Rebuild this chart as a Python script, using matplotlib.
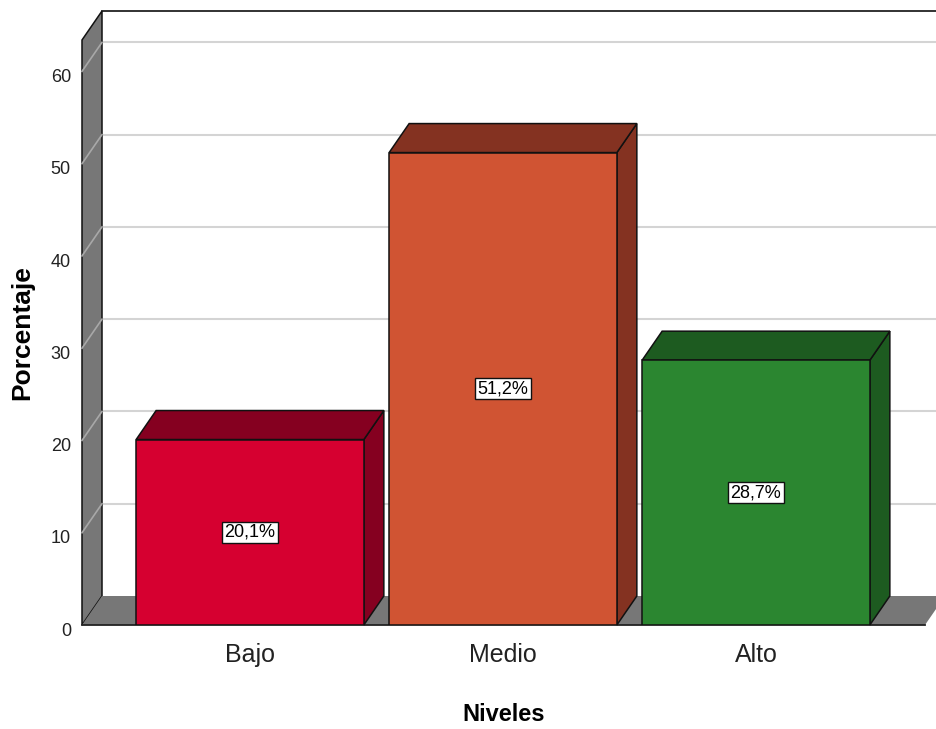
import matplotlib
matplotlib.use("Agg")
import matplotlib.pyplot as plt
from matplotlib.patches import Polygon
from matplotlib.transforms import IdentityTransform, ScaledTranslation
import numpy as np

# ---- data ----
categories = ["Bajo", "Medio", "Alto"]
values = [20.1, 51.2, 28.7]
value_labels = ["20,1%", "51,2%", "28,7%"]
yticks = [0, 10, 20, 30, 40, 50, 60]
front_colors = ["#d60030", "#d05433", "#2b8630"]
dark_colors = ["#850020", "#843221", "#1d5b20"]

plt.rcParams["font.family"] = ["Liberation Sans", "DejaVu Sans"]

DPI = 100
fig = plt.figure(figsize=(9.36, 7.29), dpi=DPI)
ax = fig.add_axes([82 / 936, (729 - 625) / 729, (925 - 82) / 936, (625 - 40) / 729])
xmin, xmax = -0.664, 2.668
ymin, ymax = 0, 63.4
ax.set_xlim(xmin, xmax)
ax.set_ylim(ymin, ymax)
for s in ax.spines.values():
    s.set_visible(False)
ax.patch.set_visible(False)

# depth offset in pixels
DX, DY = 20, 29

T = ax.transData
ident = IdentityTransform()

def disp(x, y, back=False):
    px, py = T.transform((x, y))
    if back:
        px += DX
        py += DY
    return (px, py)

W = fig.get_figwidth() * DPI + 60

# back wall gridlines
for v in yticks[1:]:
    p0 = disp(xmin, v, True)
    ax.add_line(plt.Line2D([p0[0], W], [p0[1], p0[1]], transform=ident,
                           color="#d4d4d4", lw=1.5, zorder=1, clip_on=False))
# back wall top border
ptop = disp(xmin, ymax, True)
ax.add_line(plt.Line2D([ptop[0], W], [ptop[1], ptop[1]], transform=ident,
                       color="#222222", lw=1.3, zorder=1.5, clip_on=False))

# left wall
lw_pts = [disp(xmin, 0), disp(xmin, ymax), disp(xmin, ymax, True), disp(xmin, 0, True)]
ax.add_patch(Polygon(lw_pts, closed=True, transform=ident, facecolor="#777777",
                     edgecolor="#111111", lw=1.1, zorder=2, clip_on=False))
for v in yticks[1:]:
    a = disp(xmin, v)
    b = disp(xmin, v, True)
    ax.add_line(plt.Line2D([a[0], b[0]], [a[1], b[1]], transform=ident,
                           color="#a8a8a8", lw=1.2, zorder=2.1, clip_on=False))

# floor
fl_pts = [disp(xmin, 0), disp(xmax, 0), disp(xmax, 0, True), disp(xmin, 0, True)]
ax.add_patch(Polygon(fl_pts, closed=True, transform=ident, facecolor="#777777",
                     edgecolor="none", lw=0, zorder=2, clip_on=False))
a, b = disp(xmin, 0), disp(xmax, 0)
ax.add_line(plt.Line2D([a[0], b[0]], [a[1], b[1]], transform=ident,
                       color="#222222", lw=1.3, zorder=2.2, clip_on=False))

# bars
x = np.arange(len(categories))
bars = ax.bar(x, values, width=0.9, color=front_colors, edgecolor="#111111",
              linewidth=1.1, zorder=5)
for i, rect in enumerate(bars):
    x0 = rect.get_x()
    x1 = x0 + rect.get_width()
    h = rect.get_height()
    top = [disp(x0, h), disp(x1, h), disp(x1, h, True), disp(x0, h, True)]
    side = [disp(x1, 0), disp(x1, h), disp(x1, h, True), disp(x1, 0, True)]
    ax.add_patch(Polygon(side, closed=True, transform=ident, facecolor=dark_colors[i],
                         edgecolor="#111111", lw=1.1, zorder=4, clip_on=False))
    ax.add_patch(Polygon(top, closed=True, transform=ident, facecolor=dark_colors[i],
                         edgecolor="#111111", lw=1.1, zorder=4, clip_on=False))
    ax.text(x[i], h / 2, value_labels[i], ha="center", va="center", fontsize=13,
            zorder=6, bbox=dict(boxstyle="square,pad=0.12", fc="white", ec="#111111", lw=1.0))

ax.set_xticks(x)
ax.set_xticklabels(categories, fontsize=18)
ax.set_yticks(yticks)
ax.set_yticklabels([str(t) for t in yticks], fontsize=13)
ax.tick_params(axis="x", length=0, pad=13, colors="#222222")
ax.tick_params(axis="y", length=0, pad=8, colors="#222222")
off = ScaledTranslation(0, -3 / 72, fig.dpi_scale_trans)
for lbl in ax.get_yticklabels():
    lbl.set_transform(lbl.get_transform() + off)

ax.set_xlabel("Niveles", fontsize=17, fontweight="bold", labelpad=26)
ax.set_ylabel("Porcentaje", fontsize=19, fontweight="bold")
ax.yaxis.label.set_va("center")
ax.yaxis.set_label_coords(-0.071, 0.5)

fig.savefig("out.png", dpi=DPI, facecolor="white")
